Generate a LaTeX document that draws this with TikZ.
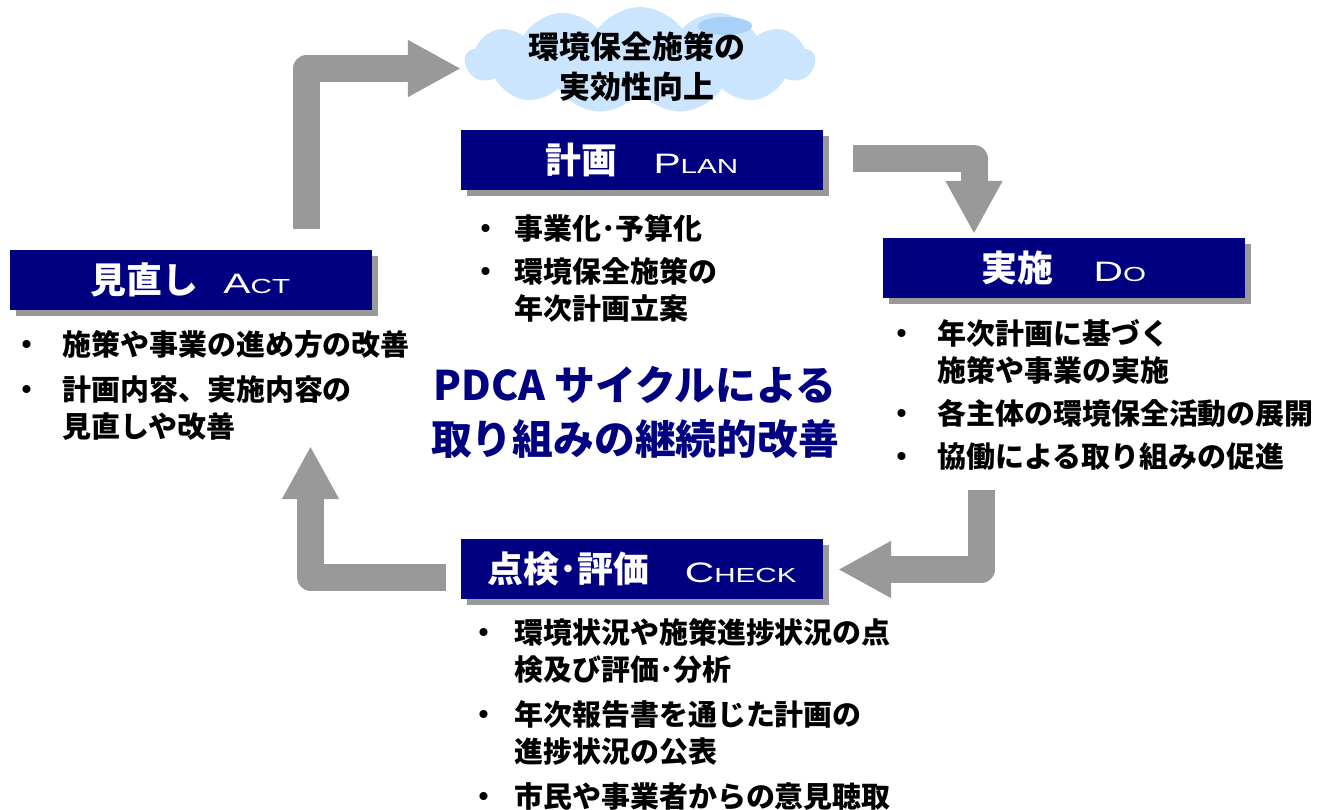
\documentclass[tikz,border=0pt]{standalone}
\usepackage{fontspec}
\setmainfont{Noto Sans CJK JP}
\newfontfamily\latinfont{Liberation Sans}[FakeStretch=1.45]
\usetikzlibrary{shapes.symbols,shadows,arrows.meta,calc}
\newlength\px \setlength\px{0.025cm}
\definecolor{navy}{HTML}{000080}
\definecolor{shadowgray}{HTML}{999999}
\definecolor{arrowgray}{HTML}{999999}
\definecolor{cloudblue}{HTML}{CCE5FF}
\definecolor{cloudhl}{HTML}{A8D0F8}
\newcommand\bodysize{\bfseries\fontsize{20.6pt}{26.2pt}\selectfont}
\newcommand\hdsize{\bfseries\fontsize{25.5pt}{30pt}\selectfont}
\newcommand\capword[2]{{\mdseries\latinfont\fontsize{20pt}{22pt}\selectfont #1\fontsize{14.5pt}{16pt}\selectfont #2}}
\newcommand\bul[1]{\llap{・\hspace{#1\px}}}
\tikzset{
  hdbox/.style={rectangle, fill=navy, text=white, font=\hdsize,
    minimum width=362\px, minimum height=60\px, inner sep=0pt,
    drop shadow={shadow xshift=6\px, shadow yshift=-6\px, opacity=1, fill=shadowgray}},
  listtext/.style={anchor=base west, align=left, font=\bodysize, inner sep=0pt, text=black},
  flow/.style={draw=arrowgray, line width=27\px, line join=round, line cap=butt,
    -{Triangle[length=1.325cm, width=1.325cm]}},
}
\begin{document}
\begin{tikzpicture}[x=0.025cm, y=-0.025cm]
\useasboundingbox (0,0) rectangle (1334,809);

% cloud
\node[cloud, cloud puffs=13, cloud puff arc=110, aspect=3.4, fill=cloudblue, draw=none,
  minimum width=350\px, minimum height=106\px, inner sep=0pt] (cloud) at (640,60) {};
\fill[cloudhl] (725,26) ellipse [x radius=27, y radius=9];
\node[align=center, font=\bfseries\fontsize{22pt}{28.4pt}\selectfont, inner sep=0pt] (goal) at (637,67)
  {環境保全施策の\\実効性向上};

% header boxes
\node[hdbox] (plan) at (642,160) {計画\hspace{36\px}\capword{P}{LAN}};
\node[hdbox] (do) at (1064,268) {実施\hspace{40\px}\capword{D}{O}};
\node[hdbox] (act) at (190.5,280) {見直し\hspace{25\px}\capword{A}{CT}};
\node[hdbox] (check) at (642,569) {点検･評価\hspace{36\px}\capword{C}{HECK}};

% lists (anchored at the baseline of their last line)
\node[listtext] (planlist) at (514,319)
  {\bul{13.5}事業化･予算化\\[6\px]
   \bul{13.5}環境保全施策の\\
   年次計画立案};
\node[listtext] (dolist) at (937,467)
  {\bul{20.5}年次計画に基づく\\
   施策や事業の実施\\[6\px]
   \bul{20.5}各主体の環境保全活動の展開\\[6\px]
   \bul{20.5}協働による取り組みの促進};
\node[listtext] (actlist) at (62,437)
  {\bul{20.5}施策や事業の進め方の改善\\[8\px]
   \bul{20.5}計画内容、実施内容の\\
   見直しや改善};
\node[listtext] (checklist) at (514,807)
  {\bul{15.5}環境状況や施策進捗状況の点\\
   検及び評価･分析\\[8\px]
   \bul{15.5}年次報告書を通じた計画の\\
   進捗状況の公表\\[8\px]
   \bul{15.5}市民や事業者からの意見聴取};

% center title
\node[align=center, text=navy, font=\bfseries\fontsize{29pt}{38.3pt}\selectfont, inner sep=0pt] (title) at (635,412)
  {PDCA サイクルによる\\取り組みの継続的改善};

% connectors
\coordinate (a1s) at (306.5,229);
\coordinate (a1e) at (461,68.5);
\coordinate (a2s) at (853,158.5);
\coordinate (a2e) at (974,234);
\coordinate (a3s) at (981.5,490);
\coordinate (a3e) at (838,569.5);
\coordinate (a4s) at (446,577);
\coordinate (a4e) at (310.5,446);
\draw[flow] (a1s) |- (a1e);
\draw[flow] (a2s) -| (a2e);
\draw[flow] (a3s) |- (a3e);
\draw[flow] (a4s) -| (a4e);
\end{tikzpicture}
\end{document}
